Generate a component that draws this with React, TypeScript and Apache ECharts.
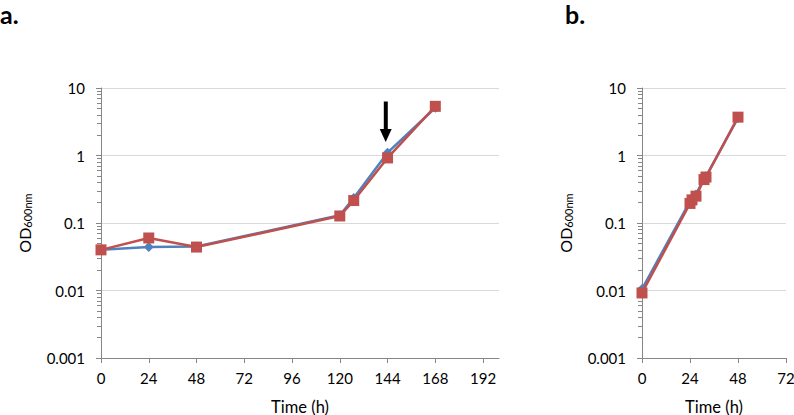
import React, { useEffect, useRef } from "react";
import * as echarts from "echarts";

// Panel a
const T_A = [0, 24, 48, 120, 127, 144, 168];
const OD_A_BLUE = [0.04, 0.044, 0.045, 0.13, 0.235, 1.1, 5.1];
const OD_A_RED = [0.04, 0.06, 0.044, 0.127, 0.215, 0.92, 5.35];
// Panel b
const T_B = [0, 24, 25, 27, 31, 32, 48];
const OD_B_BLUE = [0.0105, 0.21, 0.235, 0.265, 0.46, 0.49, 3.6];
const OD_B_RED = [0.0092, 0.195, 0.22, 0.25, 0.44, 0.48, 3.7];

const X_TICKS_A = [0, 24, 48, 72, 96, 120, 144, 168, 192];
const X_TICKS_B = [0, 24, 48, 72];
const Y_TICKS = [0.001, 0.01, 0.1, 1, 10];
const Y_MINOR = [
  0.002, 0.003, 0.004, 0.005, 0.006, 0.007, 0.008, 0.009,
  0.02, 0.03, 0.04, 0.05, 0.06, 0.07, 0.08, 0.09,
  0.2, 0.3, 0.4, 0.5, 0.6, 0.7, 0.8, 0.9,
  2, 3, 4, 5, 6, 7, 8, 9,
];

const FONT = "Lato";
const AXIS_COLOR = "#868686";
const GRID_COLOR = "#d9d9d9";
const BLUE = "#4F81BD";
const RED = "#C0504D";

function xAxis(gridIndex: number, max: number, ticks: number[]) {
  return {
    type: "value",
    gridIndex,
    min: 0,
    max,
    interval: 24,
    axisLine: { show: true, onZero: false, lineStyle: { color: AXIS_COLOR, width: 1 } },
    axisTick: { show: true, length: 5, customValues: ticks, lineStyle: { color: AXIS_COLOR } },
    axisLabel: { customValues: ticks, color: "#000", fontFamily: FONT, fontSize: 15, margin: 12 },
    splitLine: { show: false },
    name: "Time (h)",
    nameLocation: "middle",
    nameGap: 40,
    nameTextStyle: { color: "#000", fontFamily: FONT, fontSize: 16.5 },
  };
}

function yAxisMain(gridIndex: number) {
  return {
    type: "log",
    logBase: 10,
    gridIndex,
    position: "left",
    min: 0.001,
    max: 10,
    axisLine: { show: true, onZero: false, lineStyle: { color: AXIS_COLOR, width: 1 } },
    axisTick: { show: true, length: 5, customValues: Y_TICKS, lineStyle: { color: AXIS_COLOR } },
    axisLabel: {
      customValues: Y_TICKS,
      color: "#000",
      fontFamily: FONT,
      fontSize: 15,
      margin: 16,
      formatter: (v: number) =>
        v >= 1 ? String(Math.round(v)) : v.toFixed(Math.round(-Math.log10(v))),
    },
    splitLine: { show: true, lineStyle: { color: GRID_COLOR, width: 1.2 } },
    name: "{a|OD}{b|600nm}",
    nameLocation: "middle",
    nameRotate: 90,
    nameGap: 68,
    nameTextStyle: {
      color: "#000",
      fontFamily: FONT,
      rich: {
        a: { fontSize: 16, fontFamily: FONT, color: "#000", lineHeight: 18 },
        b: { fontSize: 11, fontFamily: FONT, color: "#000", verticalAlign: "bottom", lineHeight: 18, padding: [6, 0, 0, 0] },
      },
    },
  };
}

function yAxisMinor(gridIndex: number) {
  return {
    type: "log",
    logBase: 10,
    gridIndex,
    position: "left",
    min: 0.001,
    max: 10,
    axisLine: { show: false, onZero: false },
    axisTick: { show: true, length: 4, customValues: Y_MINOR, lineStyle: { color: AXIS_COLOR, width: 1 } },
    axisLabel: { show: false },
    splitLine: { show: false },
  };
}

function series(x: number, y: number, times: number[], vals: number[], color: string, symbol: string, size: number) {
  return {
    type: "line",
    xAxisIndex: x,
    yAxisIndex: y,
    data: times.map((t, i) => [t, vals[i]]),
    symbol,
    symbolSize: size,
    showAllSymbol: true,
    itemStyle: { color, opacity: 1 },
    lineStyle: { color, width: 2.5 },
    z: color === RED ? 3 : 2,
  };
}

export default function App() {
  const ref = useRef<HTMLDivElement>(null);
  useEffect(() => {
    document.body.style.margin = "0";
    const chart = echarts.init(ref.current!, null, { renderer: "svg" });
    chart.setOption({
      animation: false,
      grid: [
        { left: 101, top: 88, width: 398, height: 270, containLabel: false, outerBoundsMode: "none" },
        { left: 642, top: 88, width: 144, height: 270, containLabel: false, outerBoundsMode: "none" },
      ],
      xAxis: [xAxis(0, 200, X_TICKS_A), xAxis(1, 72, X_TICKS_B)],
      yAxis: [yAxisMain(0), yAxisMinor(0), yAxisMain(1), yAxisMinor(1)],
      series: [
        series(0, 0, T_A, OD_A_BLUE, BLUE, "diamond", 10),
        series(0, 0, T_A, OD_A_RED, RED, "rect", 11),
        series(1, 2, T_B, OD_B_BLUE, BLUE, "diamond", 10),
        series(1, 2, T_B, OD_B_RED, RED, "rect", 11),
      ],
      graphic: [
        {
          type: "text",
          left: 0,
          top: 1,
          style: { text: "a.", font: `bold 25px ${FONT}`, fill: "#000" },
        },
        {
          type: "text",
          left: 565,
          top: 1,
          style: { text: "b.", font: `bold 25px ${FONT}`, fill: "#000" },
        },
        {
          type: "rect",
          shape: { x: 383.8, y: 101.5, width: 4, height: 29 },
          style: { fill: "#000" },
        },
        {
          type: "polygon",
          shape: { points: [[379.7, 129], [391.7, 129], [385.7, 142]] },
          style: { fill: "#000" },
        },
      ],
    });
    return () => chart.dispose();
  }, []);
  return <div ref={ref} style={{ width: 794, height: 415 }} />;
}
